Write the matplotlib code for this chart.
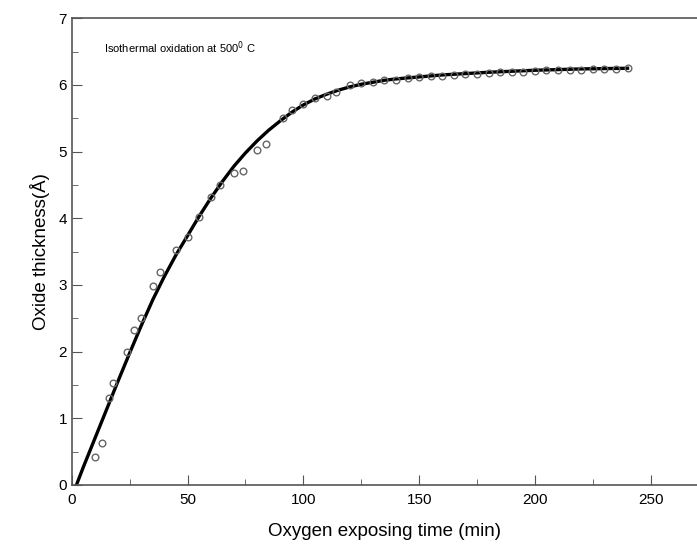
import numpy as np
import matplotlib.pyplot as plt

plt.rcParams['font.family'] = ['Liberation Sans', 'DejaVu Sans']

# Measured points (open circles)
t_meas = [10, 13, 16, 18, 24, 27, 30, 35, 38, 45, 50, 55, 60, 64, 70, 74, 80, 84,
          91, 95, 100, 105, 110, 114, 120, 125, 130, 135, 140, 145, 150, 155, 160,
          165, 170, 175, 180, 185, 190, 195, 200, 205, 210, 215, 220, 225, 230,
          235, 240]
thk_meas = [0.42, 0.63, 1.3, 1.53, 2.0, 2.33, 2.5, 2.98, 3.2, 3.53, 3.72, 4.02,
            4.32, 4.5, 4.68, 4.71, 5.02, 5.12, 5.51, 5.63, 5.72, 5.81, 5.84, 5.9,
            6.0, 6.03, 6.05, 6.07, 6.08, 6.1, 6.12, 6.13, 6.14, 6.15, 6.16, 6.17,
            6.18, 6.19, 6.2, 6.2, 6.21, 6.22, 6.22, 6.23, 6.23, 6.24, 6.24, 6.24,
            6.25]

# Fitted curve
t_fit = [2, 5, 10, 15, 20, 25, 30, 35, 40, 45, 50, 55, 60, 65, 70, 75, 80, 85,
         90, 95, 100, 105, 110, 115, 120, 125, 130, 135, 140, 150, 160, 170, 180,
         200, 220, 240]
thk_fit = [0.0, 0.27, 0.7, 1.13, 1.56, 1.98, 2.39, 2.78, 3.13, 3.45, 3.74, 4.03,
           4.3, 4.55, 4.78, 4.98, 5.16, 5.32, 5.46, 5.59, 5.7, 5.79, 5.86, 5.92,
           5.97, 6.01, 6.04, 6.07, 6.09, 6.12, 6.15, 6.17, 6.19, 6.22, 6.24, 6.25]

fig = plt.figure(figsize=(6.97, 5.53), dpi=100)
ax = fig.add_axes([0.103, 0.123, 0.897, 0.844])

ax.plot(t_fit, thk_fit, color='black', lw=2.4, zorder=2)
ax.plot(t_meas, thk_meas, 'o', ms=4.8, mfc='none', mec='#666666', mew=1.0, zorder=3)

ax.text(14, 6.56, 'Isothermal oxidation at 500$^0$ C', fontsize=8, va='center')

ax.set_xlim(0, 270)
ax.set_ylim(0, 7)
ax.set_xticks(np.arange(0, 251, 50))
ax.set_xticks(np.arange(25, 270, 50), minor=True)
ax.set_yticks(np.arange(0, 8, 1))
ax.set_yticks(np.arange(0.5, 7, 1), minor=True)
ax.tick_params(which='both', direction='in', labelsize=11, color='#555555')
ax.tick_params(which='major', length=7)
ax.tick_params(which='minor', length=4)
ax.tick_params(axis='x', pad=6)
ax.spines['right'].set_visible(False)
for s in ['left', 'bottom', 'top']:
    ax.spines[s].set_color('#555555')
    ax.spines[s].set_linewidth(1.2)

ax.set_xlabel('Oxygen exposing time (min)', fontsize=13.5, labelpad=11)
ax.set_ylabel('Oxide thickness(Å)', fontsize=13.5, labelpad=6)

fig.savefig('out.png', dpi=100)
